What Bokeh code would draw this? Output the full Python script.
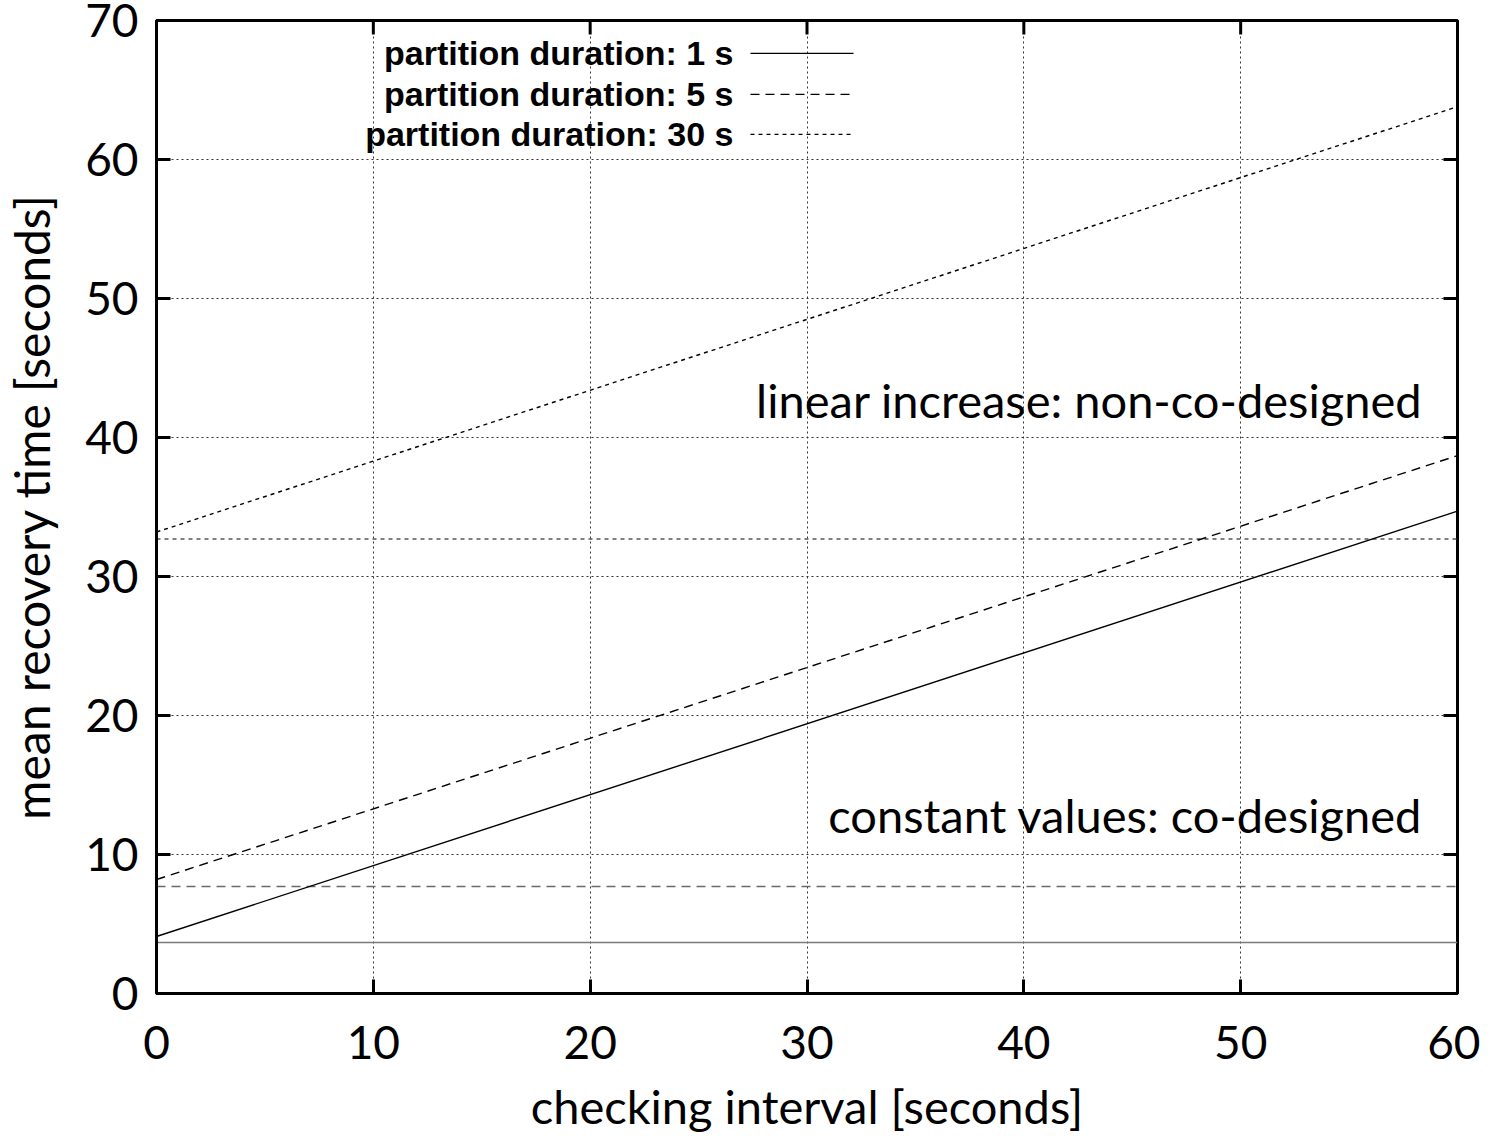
from bokeh.plotting import figure
from bokeh.models import Range1d, Label
from bokeh.embed import file_html
from bokeh.resources import INLINE

# ---- data ----
interval = [0, 60]
linear_1s = [4.1, 34.7]
linear_5s = [8.2, 38.7]
linear_30s = [33.2, 63.8]
const_1s = [3.67, 3.67]
const_5s = [7.7, 7.7]
const_30s = [32.7, 32.7]
legend_labels = ["partition duration: 1 s", "partition duration: 5 s", "partition duration: 30 s"]
x_ticks = [0, 10, 20, 30, 40, 50, 60]
y_ticks = [0, 10, 20, 30, 40, 50, 60, 70]

TICK_FONT = "Lato"
LEG_FONT = "Liberation Sans"

FL, FR, FT, FB = 156, 1457, 20, 994  # frame in picture px
W = 1480
H = 1136
p = figure(width=W, height=H, x_range=Range1d(0, 60), y_range=Range1d(0, 70),
           output_backend="svg", toolbar_location=None,
           min_border_left=FL, min_border_top=FT,
           min_border_right=W - FR, min_border_bottom=H - FB)
p.outline_line_color = "black"
p.outline_line_width = 3
p.background_fill_color = "white"
p.border_fill_color = "white"

p.xaxis.ticker = x_ticks
p.yaxis.ticker = y_ticks
for ax in (p.xaxis[0], p.yaxis[0]):
    ax.axis_line_width = 3
    ax.major_tick_in = 14
    ax.major_tick_out = 0
    ax.major_tick_line_width = 3
    ax.minor_tick_line_color = None
    ax.major_label_text_font = TICK_FONT
    ax.major_label_text_font_size = "46px"
    ax.major_label_text_color = "black"
    ax.axis_label_text_font = TICK_FONT
    ax.axis_label_text_font_style = "normal"
    ax.axis_label_text_color = "black"
p.xaxis.axis_label = "checking interval [seconds]"
p.yaxis.axis_label = "mean recovery time [seconds]"
p.xaxis.axis_label_text_font_size = "47px"
p.yaxis.axis_label_text_font_size = "48px"
p.xaxis.major_label_standoff = 32
p.yaxis.major_label_standoff = 18
p.xaxis.axis_label_standoff = 16
p.yaxis.axis_label_standoff = 22

# mirrored inward ticks on top and right (built from the tick lists)
tx = 14 / (FR - FL) * 60.0
ty = 14 / (FB - FT) * 70.0
y_top = y_ticks[-1]
p.segment(x0=x_ticks, y0=[y_top] * len(x_ticks), x1=x_ticks, y1=[y_top - ty] * len(x_ticks),
          line_color="black", line_width=3)
p.segment(x0=[60] * len(y_ticks), y0=y_ticks, x1=[60 - tx] * len(y_ticks), y1=y_ticks,
          line_color="black", line_width=3)

p.xgrid.ticker = x_ticks
p.ygrid.ticker = y_ticks
for g in (p.xgrid[0], p.ygrid[0]):
    g.grid_line_color = "#333333"
    g.grid_line_dash = "2 3"
    g.grid_line_width = 1

# ---- series ----
p.line(interval, const_1s, line_color="#7a7a7a", line_width=1.6)
p.line(interval, const_5s, line_color="#6a6a6a", line_width=1.6, line_dash="9 6")
p.line(interval, const_30s, line_color="#555555", line_width=1.4, line_dash="4 4")
p.line(interval, linear_1s, line_color="black", line_width=1.4)
p.line(interval, linear_5s, line_color="black", line_width=1.4, line_dash="9 6")
p.line(interval, linear_30s, line_color="black", line_width=1.4, line_dash="4 4")

# ---- legend (text right-aligned, sample line to the right) ----
def dx(px):
    return (px - FL) / (FR - FL) * 60.0

def dy(py):
    return (FB - py) / (FB - FT) * 70.0

leg_rows = [53, 94, 134]
leg_dash = ["solid", "9 6", "4 4"]
for lab, ry, dash in zip(legend_labels, leg_rows, leg_dash):
    p.add_layout(Label(x=dx(733), y=dy(ry), text=lab, text_align="right", text_baseline="middle",
                       text_font=LEG_FONT, text_font_style="bold", text_font_size="34px",
                       text_color="black"))
    p.line([dx(750), dx(853)], [dy(ry), dy(ry)], line_color="black", line_width=1.2, line_dash=dash)

# ---- annotations ----
p.add_layout(Label(x=dx(1422), y=dy(400), text="linear increase: non-co-designed",
                   text_align="right", text_baseline="middle", text_font=TICK_FONT,
                   text_font_size="47px", text_color="black"))
p.add_layout(Label(x=dx(1422), y=dy(815), text="constant values: co-designed",
                   text_align="right", text_baseline="middle", text_font=TICK_FONT,
                   text_font_size="47px", text_color="black"))

open("out.html", "w").write(file_html(p, INLINE))
